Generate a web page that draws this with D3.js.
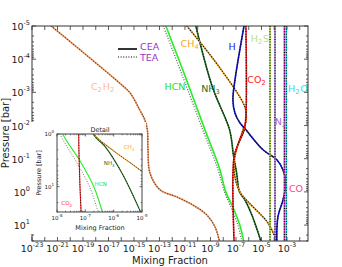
<!DOCTYPE html>
<html>
<head>
<meta charset="utf-8">
<script src="https://cdn.jsdelivr.net/npm/d3@7"></script>
<style>
body { margin: 0; background: #fff; }
text { font-family: "DejaVu Sans", sans-serif; }
</style>
</head>
<body>
<script>
// every point is [log10 pressure (bar), log10 mixing fraction]
var c2h2 = [[-5,-21.5],[-3.27,-16.1],[-2.98,-15.3],[-2.47,-14.55],[-2.17,-14.15],[-1.87,-13.95],
            [-1.27,-13.9],[-0.57,-13.75],[-0.06,-12.95],[0.15,-11.65],[0.39,-10.4],[0.69,-9.3],[1.05,-8.65],[1.48,-8.3]];
var hcnCEA = [[-5,-12.5],[-3.5,-11.0],[-1.87,-9.43],[-0.72,-8.3],[0,-7.8],[0.5,-7.2],[1,-6.7],[1.48,-6.4]];
var hcnTEA = [[-5,-12.7],[-3.5,-11.2],[-1.87,-9.6],[-0.72,-8.45],[0,-7.9],[0.5,-7.35],[1,-6.85],[1.48,-6.55]];
var nh3 = [[-5,-10.15],[-3.16,-8.85],[-1.87,-7.5],[-1.11,-7.2],[-0.57,-6.95],[0,-6.72],[0.24,-6.3],[0.75,-5.7],[1.48,-5.05]];
var ch4 = [[-5,-10.85],[-3.73,-8.25],[-2.56,-6.3],[-2.17,-6.2],[-1.87,-6.45],[-1.36,-6.9],[-0.87,-7.15],
           [-0.45,-7.08],[0,-6.7],[0.3,-6.05],[0.63,-5.2],[0.93,-4.5],[1.48,-3.8]];
var hAtom = [[-5,-6.37],[-3.37,-7.08],[-2.77,-7.24],[-2.38,-7.08],[-2.08,-6.69],[-1.87,-6.22],[-1.27,-4.88],
             [-0.96,-3.78],[-0.66,-3.31],[-0.27,-3.08],[0.24,-3.31],[0.75,-3.71],[1.48,-3.8]];
var co2 = [[-5,-6.22],[-2.3,-6.22],[-1.87,-6.35],[-1.46,-6.8],[-1.05,-7.15],[1.48,-7.15]];
var h2s = [[-5,-4.33],[1.48,-4.33]];
var n2 = [[-5,-3.94],[1.48,-3.94]];
var co = [[-5,-3.2],[1.48,-3.2]];
var h2o = [[-5,-3.05],[1.48,-3.05]];

// axis exponents
var xTickExps = d3.range(-23, -1, 2);
var yTickExps = d3.range(-5, 2);
var insetXExps = [-8, -7, -6, -5];
var insetYExps = [0, 1];

var w = 342, h = 267;
var svg = d3.select("body").append("svg").attr("width", w).attr("height", h);

var x = d3.scaleLog().domain([1e-23, Math.pow(10, -1.35)]).range([32, 308]);
var y = d3.scaleLog().domain([1e-5, Math.pow(10, 1.48)]).range([26, 241]);

var species = [
  {cea: c2h2, tea: c2h2, col: "#e89a66", dot: "#7a3a18"},
  {cea: hcnCEA, tea: hcnTEA, col: "#22f022", dot: "#666"},
  {cea: nh3, tea: nh3, col: "#1d6e1d"},
  {cea: ch4, tea: ch4, col: "#f0a020"},
  {cea: hAtom, tea: hAtom, col: "#1010cc"},
  {cea: co2, tea: co2, col: "#ff1a1a"},
  {cea: h2s, tea: h2s, col: "#aadd44"},
  {cea: n2, tea: n2, col: "#b080d8"},
  {cea: co, tea: co, col: "#dd44cc"},
  {cea: h2o, tea: h2o, col: "#22e5f0"}
];

function sup(sel, e, fs, ss, dy) {
  sel.append("tspan").attr("font-size", fs).text("10");
  sel.append("tspan").attr("font-size", ss).attr("dy", -dy).text(e);
}

function subText(sel, s) {
  // "C_2H_2" -> C with subscript 2 ...
  var parts = s.split(/(_\d)/);
  parts.forEach(function(p) {
    if (p === "") return;
    if (p[0] === "_") {
      sel.append("tspan").attr("font-size", "0.7em").attr("dy", 2).text(p[1]);
      sel.append("tspan").attr("dy", -2).text("\u200a");
    } else {
      sel.append("tspan").text(p);
    }
  });
}

function drawCurves(g, xs, ys, clipId, lw) {
  var line = d3.line()
    .x(function(d) { return xs(Math.pow(10, d[1])); })
    .y(function(d) { return ys(Math.pow(10, d[0])); })
    .curve(d3.curveCatmullRom.alpha(0.5));
  var cg = g.append("g").attr("clip-path", "url(#" + clipId + ")");
  species.forEach(function(s) {
    cg.append("path").attr("d", line(s.cea)).attr("fill", "none")
      .attr("stroke", s.col).attr("stroke-width", lw);
    cg.append("path").attr("d", line(s.tea)).attr("fill", "none")
      .attr("stroke", s.dot || "#111").attr("stroke-width", lw * 0.8)
      .attr("stroke-dasharray", "1,1.6");
  });
}

function frame(g, xs, ys, xExps, yExps, big, tl, col) {
  var x0 = xs.range()[0], x1 = xs.range()[1], y0 = ys.range()[0], y1 = ys.range()[1];
  var t = g.append("g").attr("stroke", col).attr("stroke-width", 0.8);
  // x ticks every decade, inward, top and bottom
  var xd = xs.domain().map(Math.log10);
  for (var e = Math.ceil(xd[0]); e <= Math.floor(xd[1]); e++) {
    var px = xs(Math.pow(10, e));
    t.append("line").attr("x1", px).attr("x2", px).attr("y1", y1).attr("y2", y1 - tl);
    t.append("line").attr("x1", px).attr("x2", px).attr("y1", y0).attr("y2", y0 + tl);
    if (big) continue;
    for (var m = 2; m < 10; m++) {
      var pm = xs(m * Math.pow(10, e));
      if (pm > x1) break;
      t.append("line").attr("x1", pm).attr("x2", pm).attr("y1", y1).attr("y2", y1 - tl / 2);
      t.append("line").attr("x1", pm).attr("x2", pm).attr("y1", y0).attr("y2", y0 + tl / 2);
    }
  }
  // y ticks with minors
  var yd = ys.domain().map(Math.log10);
  for (var f = Math.floor(yd[0]); f <= Math.floor(yd[1]); f++) {
    for (var k = 1; k < 10; k++) {
      var v = k * Math.pow(10, f);
      if (v < ys.domain()[0] || v > ys.domain()[1]) continue;
      var py = ys(v), len = k === 1 ? tl : tl / 2;
      t.append("line").attr("x1", x0).attr("x2", x0 + len).attr("y1", py).attr("y2", py);
      t.append("line").attr("x1", x1).attr("x2", x1 - len).attr("y1", py).attr("y2", py);
    }
  }
  g.append("rect").attr("x", x0).attr("y", y0).attr("width", x1 - x0).attr("height", y1 - y0)
    .attr("fill", "none").attr("stroke", col).attr("stroke-width", 1);
}

// clip paths
var defs = svg.append("defs");
defs.append("clipPath").attr("id", "mainclip").append("rect")
  .attr("x", 32).attr("y", 26).attr("width", 276).attr("height", 215);

var main = svg.append("g");
drawCurves(main, x, y, "mainclip", 1.6);
frame(main, x, y, xTickExps, yTickExps, true, 4, "#333");

// main tick labels
xTickExps.forEach(function(e) {
  var t = main.append("text").attr("x", x(Math.pow(10, e))).attr("y", 252)
    .attr("text-anchor", "middle").attr("fill", "#222");
  sup(t, e, 9.5, 6.5, 5);
});
yTickExps.forEach(function(e) {
  var t = main.append("text").attr("x", 30).attr("y", y(Math.pow(10, e)) + 4)
    .attr("text-anchor", "end").attr("fill", "#222");
  sup(t, e, 9.5, 6.5, 5);
});
main.append("text").attr("x", 170).attr("y", 264).attr("text-anchor", "middle")
  .attr("font-size", 10).attr("fill", "#222").text("Mixing Fraction");
main.append("text").attr("transform", "translate(9,133) rotate(-90)").attr("text-anchor", "middle")
  .attr("font-size", 10).attr("fill", "#222").text("Pressure [bar]");

// species labels (anchored in data coordinates: [log P, log x])
var labels = [
  ["C_2H_2", -3.16, -17.43, "#ffb894"],
  ["CH_4", -4.46, -10.6, "#f5a623"],
  ["HCN", -3.16, -11.78, "#22dd22"],
  ["NH_3", -3.1, -8.96, "#1d6e1d"],
  ["H", -4.37, -7.31, "#2020dd"],
  ["CO_2", -3.37, -5.35, "#ff2020"],
  ["H_2S", -4.61, -5.12, "#bbe27a"],
  ["H_2O", -3.1, -2.14, "#22e5f0"],
  ["N_2", -2.11, -3.47, "#a070c8"],
  ["CO", -0.09, -2.29, "#ff3aa0"]
];
labels.forEach(function(l) {
  var t = main.append("text").attr("x", x(Math.pow(10, l[2]))).attr("y", y(Math.pow(10, l[1])) + 3)
    .attr("text-anchor", "middle").attr("font-size", 9.5).attr("fill", l[3]);
  subText(t, l[0]);
});

// legend
var leg = main.append("g");
leg.append("line").attr("x1", 118).attr("x2", 137).attr("y1", 49).attr("y2", 49)
  .attr("stroke", "#000").attr("stroke-width", 1.6);
leg.append("line").attr("x1", 118).attr("x2", 137).attr("y1", 57).attr("y2", 57)
  .attr("stroke", "#000").attr("stroke-width", 1.2).attr("stroke-dasharray", "1,1.6");
leg.append("text").attr("x", 140).attr("y", 50).attr("font-size", 9.5).attr("fill", "#9933cc").text("CEA");
leg.append("text").attr("x", 140).attr("y", 61).attr("font-size", 9.5).attr("fill", "#9933cc").text("TEA");

// inset "Detail"
var ix = d3.scaleLog().domain([1e-8, 1e-5]).range([57, 142]);
var iy = d3.scaleLog().domain([1, Math.pow(10, 1.48)]).range([134, 212]);
defs.append("clipPath").attr("id", "insetclip").append("rect")
  .attr("x", 57).attr("y", 134).attr("width", 85).attr("height", 78);
var inset = svg.append("g");
inset.append("rect").attr("x", 30).attr("y", 122).attr("width", 116).attr("height", 112).attr("fill", "#fff");
drawCurves(inset, ix, iy, "insetclip", 1.1);
frame(inset, ix, iy, insetXExps, insetYExps, false, 2.5, "#444");
insetXExps.forEach(function(e) {
  var t = inset.append("text").attr("x", ix(Math.pow(10, e))).attr("y", 220)
    .attr("text-anchor", "middle").attr("fill", "#222");
  sup(t, e, 5.5, 4, 3);
});
insetYExps.forEach(function(e) {
  var t = inset.append("text").attr("x", 54).attr("y", iy(Math.pow(10, e)) + 2)
    .attr("text-anchor", "end").attr("fill", "#222");
  sup(t, e, 5.5, 4, 3);
});
inset.append("text").attr("x", 100).attr("y", 131.5).attr("text-anchor", "middle")
  .attr("font-size", 6.5).attr("fill", "#222").text("Detail");
inset.append("text").attr("x", 100).attr("y", 230).attr("text-anchor", "middle")
  .attr("font-size", 6.5).attr("fill", "#222").text("Mixing Fraction");
inset.append("text").attr("transform", "translate(41,173) rotate(-90)").attr("text-anchor", "middle")
  .attr("font-size", 6.5).attr("fill", "#222").text("Pressure [bar]");
var insetLabels = [
  ["CH_4", 0.25, -5.45, "#f5a623"],
  ["NH_3", 0.55, -6.15, "#1d6e1d"],
  ["HCN", 0.95, -6.45, "#22dd22"],
  ["CO_2", 1.3, -7.65, "#ff2020"]
];
insetLabels.forEach(function(l) {
  var t = inset.append("text").attr("x", ix(Math.pow(10, l[2]))).attr("y", iy(Math.pow(10, l[1])) + 2)
    .attr("text-anchor", "middle").attr("font-size", 5.5).attr("fill", l[3]);
  subText(t, l[0]);
});
</script>
</body>
</html>
